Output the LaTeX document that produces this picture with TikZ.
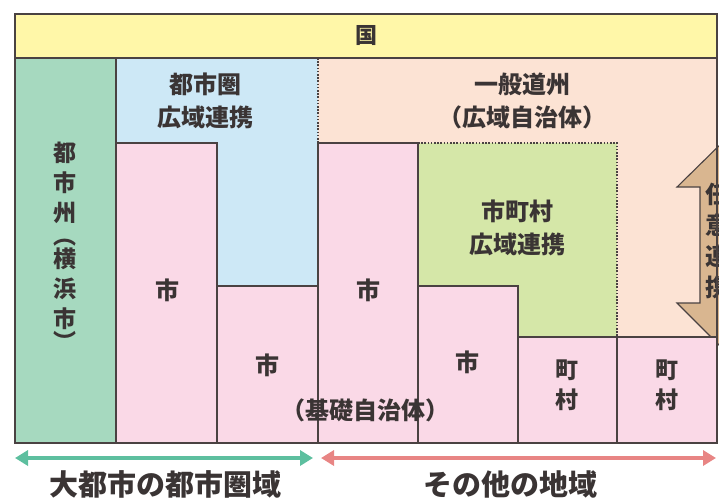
\documentclass[tikz,border=0pt]{standalone}
\usepackage{fontspec}
\usetikzlibrary{arrows.meta}
\newfontfamily\cjk{Noto Sans CJK JP}
\definecolor{yel}{HTML}{FFF7A8}
\definecolor{grn}{HTML}{A6D9BF}
\definecolor{blu}{HTML}{CDE8F6}
\definecolor{pch}{HTML}{FCE3D4}
\definecolor{pnk}{HTML}{FAD9E7}
\definecolor{lgr}{HTML}{D5E7A8}
\definecolor{tanc}{HTML}{D9B690}
\definecolor{edge}{HTML}{4A4242}
\definecolor{txt}{HTML}{3A3434}
\definecolor{garrow}{HTML}{5DBF9F}
\definecolor{rarrow}{HTML}{E88584}
\begin{document}
\begin{tikzpicture}[x=1pt,y=-1pt,
  every node/.style={text=txt, inner sep=0pt, align=center},
  lbl/.style={font=\cjk\bfseries\fontsize{24}{33}\selectfont},
  vlbl/.style={font=\cjk\bfseries\fontsize{23}{30}\selectfont},
  big/.style={font=\cjk\bfseries\fontsize{29}{33}\selectfont},
  boxline/.style={draw=edge, line width=1.1pt},
  dotline/.style={draw=edge, line width=1.1pt, dash pattern=on 1.6pt off 1.6pt},
  darrow/.style={line width=4.5pt, {Triangle[length=13pt,width=15pt]}-{Triangle[length=13pt,width=15pt]}}]
\useasboundingbox (0,0) rectangle (719,498);
\begin{scope}
\clip (0,0) rectangle (719,498);
% background regions
\fill[yel] (15,14) rectangle (717,58);
\fill[grn] (15,58) rectangle (116,443);
\fill[blu] (116,58) rectangle (318,443);
\fill[pch] (318,58) rectangle (717,443);
\fill[lgr] (418,143) rectangle (617,337);
% right double arrow
\draw[boxline, fill=tanc] (731,134) -- (677,187) -- (700,187) -- (700,303) -- (677,303)
  -- (731,357) -- (785,303) -- (762,303) -- (762,187) -- (785,187) -- cycle;
\node[vlbl, font=\cjk\bfseries\fontsize{24}{31}\selectfont] (nini) at (717,241) {任\\意\\連\\携};
% pink boxes
\draw[boxline, fill=pnk] (116,143) rectangle (217,443);
\draw[boxline, fill=pnk] (217,286) rectangle (318,443);
\draw[boxline, fill=pnk] (318,143) rectangle (418,443);
\draw[boxline, fill=pnk] (418,286) rectangle (518,443);
\draw[boxline, fill=pnk] (518,337) rectangle (617,443);
\draw[boxline, fill=pnk] (617,337) rectangle (717,443);
% lines
\draw[boxline] (15,58) -- (717,58);
\draw[boxline] (116,58) -- (116,443);
\draw[dotline] (318,58) -- (318,143);
\draw[dotline] (418,143) -- (617,143) -- (617,337);
\draw[draw=edge, line width=1.5pt] (15,14) rectangle (717,443);
\end{scope}
% texts
\node[lbl, font=\cjk\bfseries\fontsize{22}{26}\selectfont] (kuni) at (366,36) {国};
\node[lbl] (toshiken) at (205,101) {都市圏\\広域連携};
\node[lbl] (doshu) at (522,101) {一般道州\\（広域自治体）};
\node[vlbl] (toshishu) at (65,246) {都\\市\\州\\[-7pt]︵\\[-7pt]横\\浜\\市\\[-7pt]︶};
\node[lbl] (shi1) at (167,290) {市};
\node[lbl] (shi2) at (267,365) {市};
\node[lbl] (shi3) at (368,290) {市};
\node[lbl] (shi4) at (467,362) {市};
\node[lbl] (shichoson) at (517,228) {市町村\\広域連携};
\node[vlbl] (choson1) at (567,385) {町\\村};
\node[vlbl] (choson2) at (667,385) {町\\村};
\node[lbl] (kiso) at (365,410) {（基礎自治体）};
% bottom arrows
\coordinate (gL) at (15,458);
\coordinate (gR) at (313,458);
\coordinate (rL) at (321,458);
\coordinate (rR) at (716,458);
\draw[darrow, garrow] (gL) -- (gR);
\draw[darrow, rarrow] (rL) -- (rR);
\node[big] (daitoshi) at (165,484) {大都市の都市圏域};
\node[big] (sonota) at (510,484) {その他の地域};
\end{tikzpicture}
\end{document}
